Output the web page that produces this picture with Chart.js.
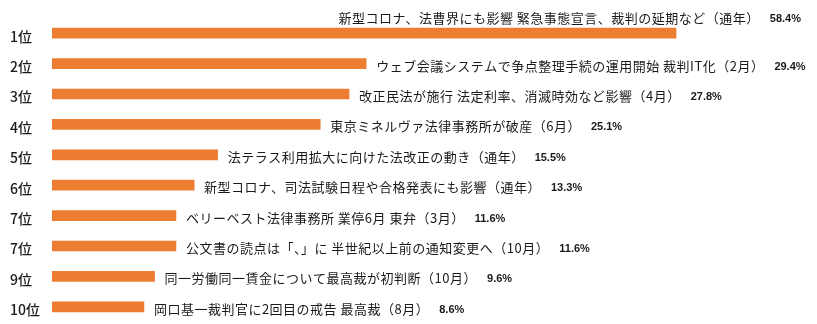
<!DOCTYPE html>
<html>
<head>
<meta charset="utf-8">
<script src="https://cdn.jsdelivr.net/npm/chart.js@4/dist/chart.umd.min.js"></script>
<style>
  html, body { margin: 0; padding: 0; background: #fff; overflow: hidden; }
  canvas { display: block; }
</style>
</head>
<body>
<canvas id="rank_chart" width="817" height="324"></canvas>
<script>
'use strict';

// Data
const ranks = ['1位', '2位', '3位', '4位', '5位', '6位', '7位', '7位', '9位', '10位'];
const topics = [
  '新型コロナ、法曹界にも影響 緊急事態宣言、裁判の延期など（通年）',
  'ウェブ会議システムで争点整理手続の運用開始 裁判IT化（2月）',
  '改正民法が施行 法定利率、消滅時効など影響（4月）',
  '東京ミネルヴァ法律事務所が破産（6月）',
  '法テラス利用拡大に向けた法改正の動き（通年）',
  '新型コロナ、司法試験日程や合格発表にも影響（通年）',
  'ベリーベスト法律事務所 業停6月 東弁（3月）',
  '公文書の読点は「、」に 半世紀以上前の通知変更へ（10月）',
  '同一労働同一賃金について最高裁が初判断（10月）',
  '岡口基一裁判官に2回目の戒告 最高裁（8月）'
];
const percents = [58.4, 29.4, 27.8, 25.1, 15.5, 13.3, 11.6, 11.6, 9.6, 8.6];

const topicFont = '13px "Noto Sans CJK JP"';
const pctFont = 'bold 11px "Liberation Sans"';

// Draws topic + percentage next to each bar
const barLabels = {
  id: 'barLabels',
  afterDatasetsDraw(chart) {
    const ctx = chart.ctx;
    const area = chart.chartArea;
    const bars = chart.getDatasetMeta(0).data;
    ctx.save();
    ctx.fillStyle = '#1a1a1a';
    ctx.textBaseline = 'middle';
    ctx.textAlign = 'left';
    bars.forEach((bar, i) => {
      const pct = percents[i].toFixed(1) + '%';
      ctx.font = topicFont;
      ctx.letterSpacing = '0.5px';
      const tw = ctx.measureText(topics[i]).width;
      ctx.letterSpacing = '0px';
      ctx.font = pctFont;
      const pw = ctx.measureText(pct).width;
      const gap = 10;
      let x = bar.x + 10;
      let y = bar.y + 2;
      if (x + tw + gap + pw > chart.width - 2) {
        // does not fit: put it above the bar, flush right
        x = area.right + 1 - (tw + gap + pw);
        y = bar.y - 15;
      }
      ctx.font = topicFont;
      ctx.letterSpacing = '0.5px';
      ctx.fillText(topics[i], x, y);
      ctx.letterSpacing = '0px';
      ctx.font = pctFont;
      ctx.fillText(pct, x + tw + gap, y + 1);
    });
    ctx.restore();
  }
};

new Chart(document.querySelector('#rank_chart'), {
  type: 'bar',
  data: {
    labels: ranks,
    datasets: [{
      data: percents,
      backgroundColor: '#ED7D31',
      barThickness: 10
    }]
  },
  options: {
    indexAxis: 'y',
    responsive: false,
    animation: false,
    layout: {
      padding: { left: 10, right: 17, top: 18, bottom: 2 }
    },
    plugins: {
      legend: { display: false },
      tooltip: { enabled: false }
    },
    scales: {
      x: {
        display: false,
        min: 0,
        max: 70
      },
      y: {
        grid: { display: false },
        border: { display: false },
        afterFit(scale) {
          scale.width = 42;
          scale.paddingTop = 0;
          scale.paddingBottom = 0;
        },
        ticks: {
          crossAlign: 'far',
          labelOffset: 3,
          color: '#1a1a1a',
          font: { family: '"Noto Sans CJK JP"', size: 14, weight: '500' }
        }
      }
    }
  },
  plugins: [barLabels]
});
</script>
</body>
</html>
